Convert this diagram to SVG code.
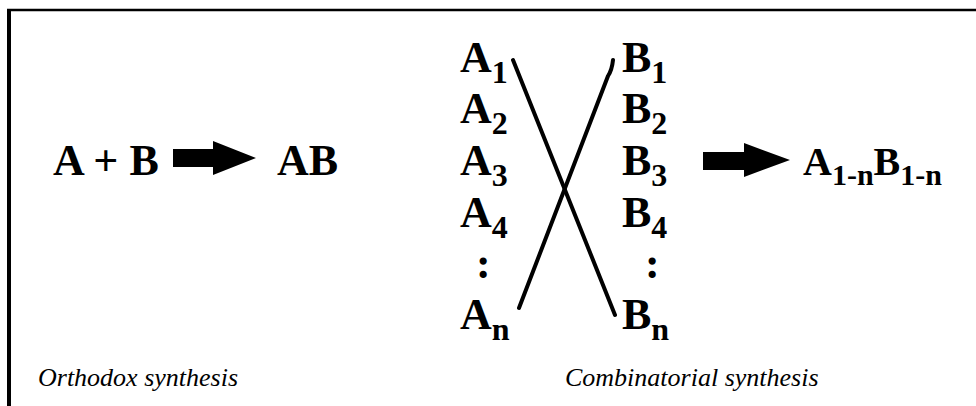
<svg xmlns="http://www.w3.org/2000/svg" width="976" height="406" viewBox="0 0 976 406">
<style>
.t{font-family:"Liberation Serif",serif;font-weight:bold;font-size:44px;fill:#000}
.s{font-size:32px}
.c{font-family:"Liberation Serif",serif;font-style:italic;font-size:26px;fill:#000}
.ln{stroke:#000;stroke-width:4;fill:none;stroke-linecap:round}
</style>
<rect width="976" height="406" fill="#fff"/>
<g id="frame">
<line x1="7" y1="10" x2="976" y2="10" stroke="#000" stroke-width="2.5"/>
<line x1="9" y1="9" x2="9" y2="406" stroke="#000" stroke-width="4"/>
</g>
<g id="orthodox">
<text class="t" x="53" y="175">A + B</text>
<polygon points="173,149 213,149 213,141 256,158 213,175 213,167 173,167" fill="#000"/>
<text class="t" x="277" y="175">AB</text>
</g>
<g id="colA">
<text class="t" x="460" y="72">A<tspan class="s" dy="11">1</tspan></text>
<text class="t" x="460" y="123">A<tspan class="s" dy="11">2</tspan></text>
<text class="t" x="460" y="175">A<tspan class="s" dy="11">3</tspan></text>
<text class="t" x="460" y="227">A<tspan class="s" dy="11">4</tspan></text>
<text class="t" x="476" y="278">:</text>
<text class="t" x="460" y="329">A<tspan class="s" dy="11">n</tspan></text>
</g>
<g id="colB">
<text class="t" x="622" y="72">B<tspan class="s" dy="11">1</tspan></text>
<text class="t" x="622" y="123">B<tspan class="s" dy="11">2</tspan></text>
<text class="t" x="622" y="175">B<tspan class="s" dy="11">3</tspan></text>
<text class="t" x="622" y="227">B<tspan class="s" dy="11">4</tspan></text>
<text class="t" x="645" y="278">:</text>
<text class="t" x="622" y="329">B<tspan class="s" dy="11">n</tspan></text>
</g>
<g id="connectors">
<line class="ln" x1="513" y1="60" x2="615" y2="315"/>
<path class="ln" d="M613,60 Q612,70 608,76 L519,308"/>
</g>
<g id="combinatorial">
<polygon points="703,152 744,152 744,143 790,160 744,177 744,170 703,170" fill="#000"/>
<text class="t" x="803" y="175" style="font-size:40px">A<tspan class="s" dy="10" style="font-size:30px">1-n</tspan><tspan dy="-10">B</tspan><tspan class="s" dy="10" style="font-size:30px">1-n</tspan></text>
</g>
<g id="captions">
<text class="c" x="38" y="386">Orthodox synthesis</text>
<text class="c" x="565" y="386">Combinatorial synthesis</text>
</g>
</svg>
